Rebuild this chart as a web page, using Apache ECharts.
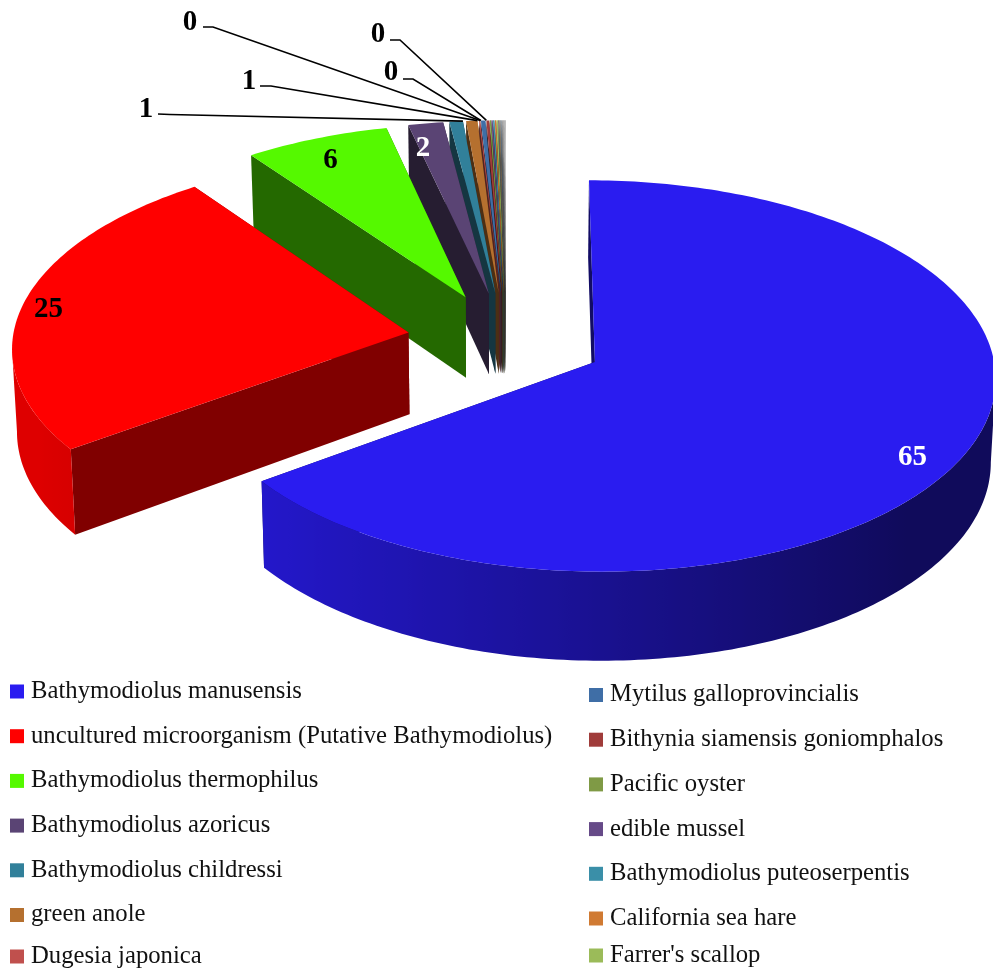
<!DOCTYPE html>
<html>
<head>
<meta charset="utf-8">
<style>html,body{margin:0;padding:0;background:#fff}#chart{width:993px;height:970px}</style>
<script src="https://cdn.jsdelivr.net/npm/echarts@6/dist/echarts.min.js"></script>
</head>
<body>
<div id="chart"></div>
<script>
// Species shares, percent, in pie order (clockwise from twelve o'clock).
const categories = [
  'Bathymodiolus manusensis',
  'uncultured microorganism (Putative Bathymodiolus)',
  'Bathymodiolus thermophilus',
  'Bathymodiolus azoricus',
  'Bathymodiolus childressi',
  'green anole',
  'Dugesia japonica',
  'Mytilus galloprovincialis',
  'Bithynia siamensis goniomphalos',
  'Pacific oyster',
  'edible mussel',
  'Bathymodiolus puteoserpentis',
  'California sea hare',
  "Farrer's scallop",
  'other species a', 'other species b', 'other species c', 'other species d',
  'other species e', 'other species f', 'other species g'
];
const shareValues = [65, 25, 6.4, 1.55, 0.6, 0.5, 0.05, 0.2, 0.12, 0.06, 0.06, 0.06, 0.06, 0.06,
  0.04, 0.04, 0.04, 0.04, 0.04, 0.04, 0.04];
const sliceColors = ['#2a1cf0', '#ff0000', '#55f900', '#5a4474', '#31809a', '#b5702f', '#c0504d',
  '#3f6ea6', '#a03c3a', '#7f9a45', '#664a88', '#3a8fa8', '#d07a32', '#9bbb59',
  '#6b6b6b', '#8a7a60', '#5d6f80', '#777777', '#8d8d8d', '#9e9e9e', '#b5b5b5'];

// Legend columns, as index ranges into categories.
const legendColumnA = categories.slice(0, 6);
const legendColumnATail = categories.slice(6, 7);
const legendColumnB = categories.slice(7, 13);
const legendColumnBTail = categories.slice(13, 14);

const SERIF = '"Liberation Serif", "Times New Roman", serif';

// Perspective disc: unit radius in plan, projected to the page.
const CX = 506, CY = 340, RX = 396, RY = 191.5, PERSP = 0.0714;
const THICK = 82, TAPER = 0.01, EXPLODE = 0.25;

const total = shareValues.reduce((a, b) => a + b, 0);
const sliceAngles = [];
shareValues.reduce((acc, v) => {
  const from = acc / total * 360, to = (acc + v) / total * 360;
  sliceAngles.push({from, to, mid: (from + to) / 2});
  return acc + v;
}, 0);

const rad = d => d * Math.PI / 180;
function project(u, v) {
  const w = 1 + PERSP * v;
  return [CX + RX * u / w, CY - RY * v / w, w];
}
function drop(p) {
  return [CX + (p[0] - CX) * (1 - TAPER), p[1] + THICK / p[2]];
}
function shadeColor(hex, f) {
  const n = parseInt(hex.slice(1), 16);
  const c = [n >> 16 & 255, n >> 8 & 255, n & 255].map(x => Math.round(x * f));
  return 'rgb(' + c.join(',') + ')';
}
// Side lighting: bright towards the left, dark towards the right.
const wallShade = a => Math.max(0.38, Math.min(0.87, 0.6 - 0.3 * Math.sin(rad(a))));

// Where each in-slice value label sits: [angle, radius] inside the slice.
const insideLabels = {
  0: {polar: [121.4, 0.892], fill: '#fff'},
  1: {polar: [278.5, 0.933], fill: '#000'},
  2: {polar: [334.8, 0.873], fill: '#000'},
  3: {polar: [347.9, 0.866], fill: '#fff'}
};
// Outside labels for the thin slices: text centre, elbow of the leader line,
// and which edge of the slice the line runs to.
const leaderLabels = {
  4: {text: [146, 107], elbow: [[158, 114], [170, 114.5]], edge: 'to'},
  5: {text: [249, 79], elbow: [[260, 86], [271, 86]], edge: 'to'},
  6: {text: [190, 20], elbow: [[203, 27], [213, 27]], edge: 'to'},
  7: {text: [391, 70], elbow: [[403, 79], [413, 79]], edge: 'from'},
  8: {text: [378, 32], elbow: [[390, 40], [400, 40]], edge: 'from'}
};
// The cut faces darken a little differently on the red slice.
const cutShade = i => (i === 1 ? 0.5 : 0.42);
// Digits sit slightly above the middle of their text box.
const TEXT_NUDGE = 2.5;

function renderSlice(index) {
  return function (params, api) {
    const value = api.value(0);
    const {from, to, mid} = sliceAngles[index];
    const color = sliceColors[index];
    const ou = EXPLODE * Math.sin(rad(mid)), ov = EXPLODE * Math.cos(rad(mid));
    const rim = a => project(ou + Math.sin(rad(a)), ov + Math.cos(rad(a)));
    const apex = project(ou, ov);
    const base = (categories.length - index) * 10;
    const children = [];

    const cutFace = (a, z) => {
      const p = rim(a);
      children.push({type: 'polygon', z2: base + z, silent: true,
        shape: {points: [apex.slice(0, 2), p.slice(0, 2), drop(p), drop(apex)]},
        style: {fill: shadeColor(color, cutShade(index))}});
    };
    cutFace(to, 0);
    cutFace(from, 1);

    // Outer wall, between the rim's rightmost and leftmost points on the page,
    // so the strip never folds back over itself.
    let rightmost = 90, leftmost = 270;
    for (let a = 45; a <= 135; a += 0.5) if (rim(a)[0] > rim(rightmost)[0]) rightmost = a;
    for (let a = 225; a <= 315; a += 0.5) if (rim(a)[0] < rim(leftmost)[0]) leftmost = a;
    const wFrom = Math.max(from, rightmost), wTo = Math.min(to, leftmost);
    if (wTo > wFrom) {
      const top = [], bottom = [], stops = [];
      const steps = Math.max(2, Math.ceil(wTo - wFrom));
      for (let s = 0; s <= steps; s++) {
        const a = wFrom + (wTo - wFrom) * s / steps;
        const p = rim(a);
        top.push(p.slice(0, 2));
        bottom.unshift(drop(p));
        stops.push({x: p[0], a});
      }
      const xs = stops.map(s => s.x);
      const x0 = Math.min(...xs), x1 = Math.max(...xs);
      const colorStops = stops
        .map(s => ({offset: (s.x - x0) / (x1 - x0), color: shadeColor(color, wallShade(s.a))}))
        .sort((a, b) => a.offset - b.offset);
      children.push({type: 'polygon', z2: base + 2, silent: true,
        shape: {points: top.concat(bottom)},
        style: {fill: {type: 'linear', global: true, x: x0, y: 0, x2: x1, y2: 0, colorStops}}});
    }

    // Top face.
    const face = [apex.slice(0, 2)];
    const n = Math.max(2, Math.ceil(to - from));
    for (let s = 0; s <= n; s++) face.push(rim(from + (to - from) * s / n).slice(0, 2));
    children.push({type: 'polygon', z2: base + 3, silent: true,
      shape: {points: face}, style: {fill: color}});

    const font = 'bold 29px ' + SERIF;
    const inside = insideLabels[index];
    if (inside) {
      const [a, r] = inside.polar;
      const p = project(ou + r * Math.sin(rad(a)), ov + r * Math.cos(rad(a)));
      children.push({type: 'text', z2: 1000, silent: true,
        style: {text: String(Math.round(value)), x: p[0], y: p[1] + TEXT_NUDGE, font, fill: inside.fill,
          align: 'center', verticalAlign: 'middle'}});
    }
    const lead = leaderLabels[index];
    if (lead) {
      const end = rim(lead.edge === 'to' ? to : from).slice(0, 2);
      children.push({type: 'polyline', z2: 900, silent: true,
        shape: {points: lead.elbow.concat([end])},
        style: {fill: 'none', stroke: '#000', lineWidth: 1.6}});
      children.push({type: 'text', z2: 1000, silent: true,
        style: {text: String(Math.round(value)), x: lead.text[0], y: lead.text[1] + TEXT_NUDGE, font, fill: '#000',
          align: 'center', verticalAlign: 'middle'}});
    }
    return {type: 'group', children};
  };
}

function legendColumn(names, left, top, gap) {
  return {
    orient: 'vertical', left, top, padding: 0, itemGap: gap, itemWidth: 14, itemHeight: 14,
    selectedMode: false,
    data: names.map(name => ({name, icon: 'rect'})),
    textStyle: {fontFamily: SERIF, fontSize: 24.7, color: '#111', padding: [0, 0, 0, 2]}
  };
}

const chart = echarts.init(document.getElementById('chart'), null, {renderer: 'canvas'});
chart.setOption({
  backgroundColor: '#fff',
  animation: false,
  tooltip: {show: false},
  legend: [
    legendColumn(legendColumnA, 10, 679, 19.7),
    legendColumn(legendColumnATail, 10, 944, 0),
    legendColumn(legendColumnB, 589, 682.5, 19.7),
    legendColumn(legendColumnBTail, 589, 943, 0)
  ],
  series: categories.map((name, i) => ({
    type: 'custom',
    name,
    coordinateSystem: 'none',
    silent: true,
    clip: false,
    itemStyle: {color: sliceColors[i]},
    data: [[shareValues[i]]],
    renderItem: renderSlice(i)
  }))
});
</script>
</body>
</html>
